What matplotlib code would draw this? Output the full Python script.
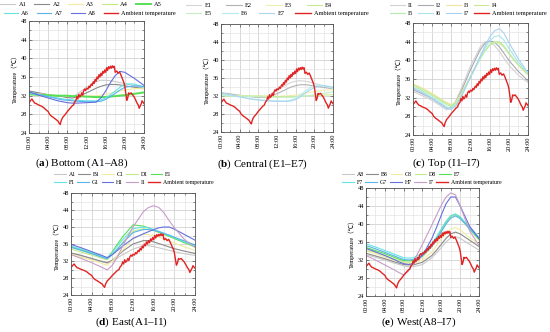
import matplotlib
matplotlib.use("Agg")
import matplotlib.pyplot as plt
from matplotlib.ticker import MultipleLocator

plt.rcParams['font.family'] = ['Liberation Serif', 'Noto Sans CJK SC', 'DejaVu Sans']
plt.rcParams['mathtext.fontset'] = 'custom'
plt.rcParams['mathtext.rm'] = 'Liberation Serif'
plt.rcParams['mathtext.bf'] = 'Liberation Serif:bold'

# ---------------- data ----------------
HOURS = [0, 2, 4, 6, 7, 8, 9, 10, 12, 14, 15, 16, 17, 18, 19, 20, 22, 24]

AMB_T = [0.0, 0.3, 0.6, 0.9, 1.2, 1.5, 2.0, 2.5, 3.0, 3.5, 4.0, 4.3, 4.7, 5.0, 5.5, 6.0, 6.3, 6.5,
         6.7, 7.0, 7.5, 8.0, 8.5, 9.0, 9.3, 9.5, 9.8, 10.0, 10.2, 10.4, 10.6, 10.8, 11.0, 11.2,
         11.4, 11.6, 11.8, 12.0, 12.3, 12.5, 12.7, 13.0, 13.2, 13.4, 13.6, 13.8, 14.0, 14.2,
         14.4, 14.6, 14.8, 15.0, 15.2, 15.4, 15.6, 15.8, 16.0, 16.2, 16.4, 16.6, 16.8, 17.0,
         17.2, 17.4, 17.6, 17.8, 18.0, 18.3, 18.6, 18.9, 19.2, 19.5, 19.8, 20.0, 20.2, 20.4,
         20.6, 20.8, 21.0, 21.3, 21.6, 21.9, 22.2, 22.5, 22.8, 23.0, 23.2, 23.4, 23.6, 23.8, 24.0]
AMB_V = [30.5, 30.9, 31.3, 30.8, 30.4, 30.3, 30.0, 29.8, 29.5, 29.0, 28.6, 28.0, 27.6, 27.4, 27.0, 26.6, 26.1, 25.8,
         26.6, 27.3, 27.9, 28.6, 29.2, 29.8, 30.0, 30.6, 31.0, 31.8, 31.3, 32.3, 31.7, 32.0, 32.6, 32.1,
         33.0, 33.4, 33.1, 33.6, 33.4, 34.0, 33.7, 34.5, 34.2, 35.0, 34.6, 35.5, 35.1, 36.0,
         35.6, 36.5, 36.0, 36.8, 36.3, 37.2, 36.8, 37.5, 37.0, 38.0, 37.4, 38.2, 37.8, 38.3,
         37.9, 38.4, 38.0, 38.3, 37.0, 37.3, 36.8, 37.1, 36.4, 35.6, 34.8, 34.0, 32.5, 31.0,
         31.5, 32.6, 32.4, 32.6, 32.2, 31.8, 31.2, 30.5, 30.0, 29.3, 29.8, 30.2, 30.9, 30.6, 30.3]

# (a) Bottom
A_NAMES = ['A1', 'A2', 'A3', 'A4', 'A5', 'A6', 'A7', 'A8']
A1 = [33.0, 32.6, 32.2, 31.9, 31.8, 31.7, 31.8, 32.3, 33.8, 35.0, 35.3, 35.3, 35.2, 35.0, 34.8, 34.6, 34.1, 33.6]
A2 = [33.0, 32.6, 32.2, 31.9, 31.8, 31.6, 31.5, 31.7, 32.6, 33.6, 34.0, 34.3, 34.4, 34.4, 34.3, 34.1, 33.8, 33.5]
A3 = [32.6, 32.4, 32.2, 32.0, 32.0, 31.9, 31.9, 31.9, 31.9, 32.0, 32.1, 32.3, 32.5, 32.8, 33.0, 33.2, 33.5, 33.5]
A4 = [32.2, 32.1, 32.0, 32.0, 32.0, 31.9, 31.9, 31.9, 31.8, 31.8, 31.8, 31.8, 31.9, 32.0, 32.1, 32.2, 32.4, 32.6]
A5 = [32.3, 32.2, 32.1, 32.0, 32.0, 32.0, 31.9, 31.9, 31.8, 31.7, 31.7, 31.7, 31.8, 31.9, 32.0, 32.1, 32.4, 32.7]
A6 = [32.5, 32.2, 31.8, 31.5, 31.3, 31.2, 31.1, 31.0, 30.9, 30.9, 31.1, 31.5, 32.2, 33.0, 33.8, 34.5, 34.5, 33.8]
A7 = [32.8, 32.3, 31.8, 31.3, 31.1, 31.0, 30.9, 30.8, 30.7, 30.7, 30.8, 31.2, 31.8, 32.5, 33.2, 33.8, 34.1, 34.0]
A8 = [32.8, 32.1, 31.5, 30.9, 30.7, 30.5, 30.4, 30.4, 30.5, 30.6, 31.5, 33.0, 34.8, 36.3, 37.2, 37.0, 35.7, 34.2]

# (b) Central
E_NAMES = ['E1', 'E2', 'E3', 'E4', 'E5', 'E6', 'E7']
E1 = [32.8, 32.5, 32.2, 31.9, 31.8, 31.7, 31.7, 32.0, 33.3, 34.5, 35.0, 35.3, 35.4, 35.3, 35.1, 34.8, 34.3, 33.8]
E2 = [32.6, 32.4, 32.1, 31.9, 31.8, 31.7, 31.7, 31.8, 32.5, 33.5, 34.0, 34.3, 34.5, 34.5, 34.4, 34.2, 33.9, 33.6]
E3 = [32.3, 32.2, 32.1, 32.0, 32.0, 32.0, 31.9, 31.9, 31.9, 32.0, 32.1, 32.2, 32.4, 32.6, 32.8, 33.0, 33.3, 33.4]
E4 = [32.0, 32.0, 32.0, 32.0, 32.0, 32.0, 32.0, 32.0, 31.9, 31.9, 31.9, 31.9, 32.0, 32.0, 32.1, 32.1, 32.2, 32.3]
E5 = [32.2, 32.1, 32.0, 31.9, 31.9, 31.8, 31.8, 31.8, 31.7, 31.7, 31.7, 31.8, 31.9, 32.0, 32.1, 32.3, 32.6, 32.9]
E6 = [32.4, 32.1, 31.8, 31.5, 31.3, 31.2, 31.1, 31.0, 30.9, 30.9, 31.1, 31.5, 32.2, 33.0, 33.8, 34.4, 34.3, 33.7]
E7 = [32.7, 32.3, 31.8, 31.4, 31.2, 31.1, 31.0, 30.9, 30.8, 30.8, 30.9, 31.2, 31.8, 32.6, 33.3, 33.9, 34.3, 34.0]

# (c) Top
I_NAMES = ['I1', 'I2', 'I3', 'I4', 'I5', 'I6', 'I7']
I1 = [33.3, 32.4, 31.4, 30.1, 29.4, 29.8, 31.5, 33.8, 38.8, 42.8, 44.0, 44.0, 43.2, 41.9, 40.4, 39.0, 36.8, 35.2]
I2 = [33.7, 32.8, 31.8, 30.5, 29.8, 30.0, 31.2, 33.2, 38.0, 42.2, 43.6, 44.2, 43.9, 42.9, 41.5, 40.0, 37.6, 35.6]
I3 = [35.0, 34.0, 32.9, 31.6, 31.0, 30.5, 31.2, 32.8, 36.6, 40.4, 42.1, 43.3, 43.9, 43.8, 42.9, 41.4, 38.9, 36.8]
I4 = [34.8, 33.8, 32.7, 31.4, 30.8, 30.3, 31.0, 32.6, 36.5, 40.3, 42.0, 43.2, 43.8, 43.7, 42.8, 41.4, 39.0, 37.0]
I5 = [34.5, 33.5, 32.4, 31.1, 30.5, 30.1, 30.8, 32.4, 36.4, 40.3, 42.1, 43.4, 44.0, 44.0, 43.1, 41.6, 39.1, 37.1]
I6 = [34.2, 33.2, 32.0, 30.7, 30.0, 29.7, 30.5, 32.2, 36.4, 40.6, 42.6, 44.2, 45.1, 45.3, 44.3, 42.6, 39.6, 37.3]
I7 = [34.0, 33.0, 31.8, 30.4, 29.7, 29.5, 30.3, 32.0, 36.4, 40.8, 43.0, 45.0, 46.3, 46.8, 45.8, 43.8, 40.3, 37.3]

# (d) East
D_NAMES = ['A1', 'B1', 'C1', 'D1', 'E1', 'F1', 'G1', 'H1', 'I1']
EA1 = [33.8, 33.2, 32.5, 31.8, 31.5, 31.9, 32.7, 33.5, 34.8, 35.6, 35.6, 35.4, 35.1, 34.8, 34.5, 34.2, 33.7, 33.3]
EB1 = [33.9, 33.3, 32.6, 31.9, 31.6, 32.2, 33.2, 34.3, 36.0, 36.8, 36.8, 36.5, 36.1, 35.7, 35.3, 34.9, 34.3, 33.8]
EC1 = [33.6, 32.9, 32.2, 31.4, 31.0, 32.0, 33.3, 34.6, 37.2, 38.3, 38.2, 38.0, 37.6, 37.2, 36.7, 36.2, 35.3, 34.5]
ED1 = [34.8, 34.1, 33.4, 32.6, 32.3, 33.6, 35.0, 36.4, 39.0, 39.6, 39.4, 39.1, 38.7, 38.3, 37.8, 37.3, 36.3, 35.3]
EE1 = [35.3, 34.6, 33.8, 33.0, 32.6, 34.2, 36.0, 37.7, 40.5, 40.2, 39.8, 39.3, 38.8, 38.3, 37.8, 37.3, 36.3, 35.4]
EF1 = [35.5, 34.8, 34.0, 33.1, 32.7, 34.0, 35.6, 37.0, 39.6, 40.0, 39.8, 39.4, 39.0, 38.5, 38.0, 37.5, 36.5, 35.6]
EG1 = [35.2, 34.5, 33.7, 32.9, 32.5, 33.5, 34.8, 36.2, 38.7, 39.4, 39.4, 39.2, 38.9, 38.5, 38.1, 37.6, 36.7, 35.8]
EH1 = [35.9, 35.1, 34.2, 33.3, 32.8, 33.5, 34.5, 35.5, 37.3, 38.4, 38.9, 39.4, 39.8, 40.0, 40.0, 39.5, 38.2, 36.9]
EI1 = [33.5, 32.6, 31.6, 30.5, 29.9, 31.0, 33.0, 35.5, 40.0, 43.6, 44.6, 45.0, 44.6, 43.3, 41.5, 39.8, 37.0, 35.2]

# (e) West
W_NAMES = ['A8', 'B8', 'C8', 'D8', 'E7', 'F7', 'G7', 'H7', 'I7']
WA8 = [33.2, 32.6, 32.0, 31.3, 31.0, 30.7, 30.5, 30.5, 31.0, 32.5, 33.6, 34.8, 36.0, 36.9, 37.2, 36.8, 35.5, 34.2]
WB8 = [33.5, 32.9, 32.3, 31.6, 31.3, 31.0, 30.9, 30.9, 31.5, 33.0, 34.2, 35.5, 36.8, 37.8, 38.2, 37.8, 36.4, 35.0]
WC8 = [34.0, 33.4, 32.7, 31.9, 31.6, 31.3, 31.2, 31.2, 32.0, 33.8, 35.2, 36.7, 38.0, 38.9, 39.2, 38.7, 37.0, 35.5]
WD8 = [34.3, 33.7, 33.0, 32.2, 31.9, 31.6, 31.5, 31.6, 32.6, 35.0, 36.7, 38.5, 40.2, 41.5, 42.0, 41.3, 38.8, 36.4]
WE7 = [34.8, 34.1, 33.4, 32.6, 32.2, 31.9, 31.8, 31.9, 33.0, 35.3, 37.0, 38.8, 40.5, 41.8, 42.2, 41.5, 39.0, 36.6]
WF7 = [35.6, 34.9, 34.1, 33.3, 32.9, 32.5, 32.4, 32.5, 33.5, 35.6, 37.2, 38.9, 40.6, 41.8, 42.2, 41.6, 39.3, 37.1]
WG7 = [35.2, 34.5, 33.7, 32.9, 32.5, 32.1, 32.0, 32.1, 33.0, 35.0, 36.6, 38.3, 40.0, 41.3, 41.8, 41.2, 39.0, 36.8]
WH7 = [34.6, 33.8, 33.0, 32.1, 31.6, 31.2, 31.0, 31.2, 33.0, 36.8, 39.3, 42.0, 44.5, 46.0, 46.0, 44.0, 39.5, 36.8]
WI7 = [33.0, 32.0, 30.9, 29.8, 29.2, 28.7, 29.5, 31.5, 35.5, 39.8, 42.0, 44.2, 46.0, 46.9, 46.5, 44.0, 38.5, 35.2]

X_TICKS = [0, 4, 8, 12, 16, 20, 24]
Y_TICKS = [24, 28, 32, 36, 40, 44, 48]

# ---------------- styles ----------------
C9 = ['#c9c9c9', '#8a8a8a', '#f3eca0', '#c4ea88', '#56e056', '#66e3e6', '#5ab4ea', '#6670de', '#c89cc8']
CB = ['#d6d6d6', '#b2b2b2', '#f2eeb0', '#c6ec96', '#c4efc4', '#b4ecee', '#acd6f0']
CC = ['#d2d2d2', '#a9a9b4', '#efe89c', '#cbe994', '#b6eeb2', '#a8e6ea', '#a8d2f2']
RED = '#e02424'

W, Hh = 550.0, 332.0
def rect(x0, y0, x1, y1):
    return [x0 / W, 1 - y1 / Hh, (x1 - x0) / W, (y1 - y0) / Hh]

fig = plt.figure(figsize=(5.5, 3.32), dpi=100)

def make_axes(r, names, series, colors, lws):
    ax = fig.add_axes(r)
    handles = []
    for n, s, c, lw in zip(names, series, colors, lws):
        h, = ax.plot(HOURS, s, color=c, lw=lw, label=n)
        handles.append(h)
    hr, = ax.plot(AMB_T, AMB_V, color=RED, lw=1.0, label='Ambient temperature')
    handles.append(hr)
    ax.set_xlim(0, 24)
    ax.set_ylim(24, 48)
    ax.set_xticks(X_TICKS)
    ax.set_xticklabels(['%02d:00' % t for t in X_TICKS], rotation=90)
    ax.set_yticks(Y_TICKS)
    ax.xaxis.set_minor_locator(MultipleLocator(2))
    ax.yaxis.set_minor_locator(MultipleLocator(2))
    ax.grid(True, which='major', color='#d2d2d2', lw=0.6)
    ax.grid(True, which='minor', color='#e4e4e4', lw=0.5)
    ax.set_axisbelow(True)
    ax.tick_params(which='both', direction='in', top=True, right=True, labelsize=4.6,
                   color='#555555', width=0.5, pad=1.5)
    ax.tick_params(which='major', length=2.5)
    ax.tick_params(which='minor', length=1.5)
    for sp in ax.spines.values():
        sp.set_color('#555555')
        sp.set_linewidth(0.6)
    ax.set_ylabel('Temperature（℃）', fontsize=4.6, labelpad=2)
    return ax, handles

def row_legend(handles, x, y, fs, hl, cs, tp=0.5):
    fig.legend(handles, [h.get_label() for h in handles], loc='upper left',
               bbox_to_anchor=(x / W, 1 - y / Hh), ncol=len(handles), frameon=False,
               fontsize=fs, handlelength=hl, columnspacing=cs, handletextpad=tp,
               borderpad=0, borderaxespad=0)

def title(txt, x, y):
    fig.text(x / W, 1 - y / Hh, txt, ha='center', va='center', fontsize=8)

# (a)
ax, hs = make_axes(rect(29, 21, 144, 133), A_NAMES, [A1, A2, A3, A4, A5, A6, A7, A8],
                   C9[:8], [0.8, 0.8, 0.8, 0.8, 1.4, 0.8, 0.8, 0.8])
row_legend(hs[:5], 0, 2, 4.6, 2.4, 1.2)
row_legend(hs[5:], 4, 11, 4.6, 2.2, 1.3)
title(r'($\mathbf{a}$) Bottom (A1–A8)', 82, 163)

# (b)
ax, hs = make_axes(rect(221, 24, 333, 132), E_NAMES, [E1, E2, E3, E4, E5, E6, E7],
                   CB, [0.8] * 7)
row_legend(hs[:4], 186, 3, 4.6, 2.4, 2.3)
row_legend(hs[4:], 186, 11, 4.6, 2.4, 1.7)
title(r'($\mathbf{b}$) Central (E1–E7)', 262, 164)

# (c)
ax, hs = make_axes(rect(413, 23, 528, 135), I_NAMES, [I1, I2, I3, I4, I5, I6, I7],
                   CC, [0.8] * 7)
row_legend(hs[:4], 390, 3, 4.6, 2.3, 0.75)
row_legend(hs[4:], 390, 11, 4.6, 2.3, 0.75)
title(r'($\mathbf{c}$) Top (I1–I7)', 446, 163)

# (d)
ax, hs = make_axes(rect(71, 193, 195, 295), D_NAMES,
                   [EA1, EB1, EC1, ED1, EE1, EF1, EG1, EH1, EI1], C9, [0.8] * 9)
row_legend(hs[:5], 54, 172, 4.2, 2.0, 0.45)
row_legend(hs[5:], 54, 180, 4.2, 2.0, 0.45)
title(r'($\mathbf{d}$) East(A1–I1)', 131, 322)

# (e)
ax, hs = make_axes(rect(366, 188, 479, 296), W_NAMES,
                   [WA8, WB8, WC8, WD8, WE7, WF7, WG7, WH7, WI7], C9, [0.8] * 9)
row_legend(hs[:5], 342, 172, 4.2, 2.0, 0.45)
row_legend(hs[5:], 342, 180, 4.2, 2.0, 0.45)
title(r'($\mathbf{e}$) West(A8–I7)', 419, 322)

fig.savefig('out.png', dpi=100)
